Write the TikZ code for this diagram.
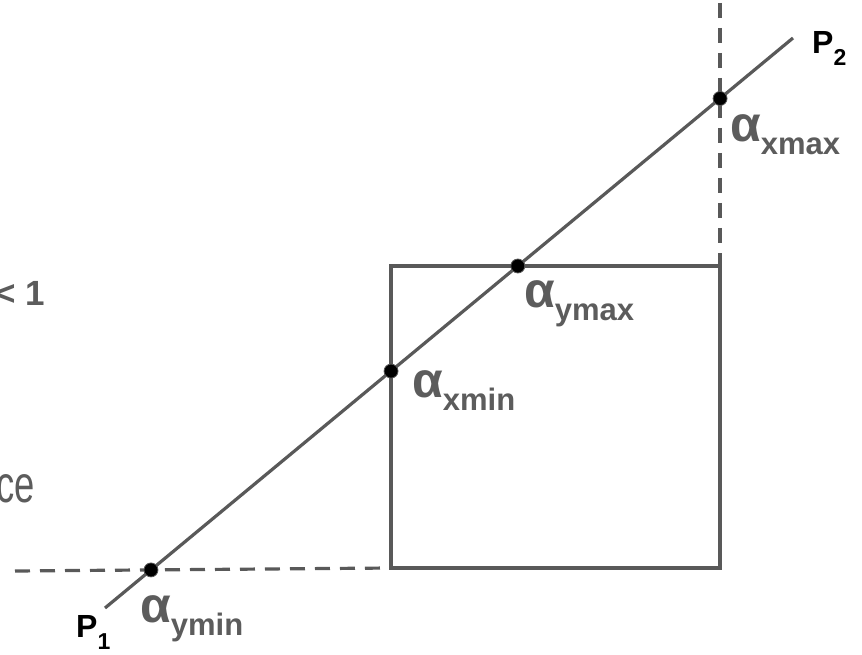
\documentclass[tikz,border=0pt]{standalone}
\usepackage{fontspec}
\setmainfont{Liberation Sans}
\usetikzlibrary{positioning, calc}
\definecolor{linegray}{HTML}{595959}
\definecolor{labelgray}{HTML}{5C5C5C}

% alpha label with a lowered subscript
\newcommand{\alphalab}[1]{{\fontsize{50}{50}\selectfont\bfseries α}\raisebox{-13pt}{\fontsize{31}{31}\selectfont\bfseries #1}}
% end point label
\newcommand{\pointlab}[1]{{\fontsize{32}{32}\selectfont\bfseries P}\raisebox{-12pt}{\fontsize{23}{23}\selectfont\bfseries #1}}

\begin{document}
\begin{tikzpicture}[
        x=1pt, y=-1pt,
        % Styles
        edge/.style={draw=linegray, line width=3.2pt},
        guide/.style={edge, dash pattern=on 15pt off 10pt},
        hit/.style={circle, fill=black, draw=linegray, line width=0.8pt, minimum size=14pt, inner sep=0pt},
        alab/.style={anchor=base west, inner sep=0pt, text=labelgray},
        plab/.style={anchor=base west, inner sep=0pt, text=black}
    ]
    \useasboundingbox (0,0) rectangle (862,655);

    % ==============================
    % 1. BOX AND GUIDES
    % ==============================
    \coordinate (bl) at (391,568);
    \coordinate (br) at (720,568);
    \coordinate (tr) at (720,266);
    \coordinate (tl) at (391,266);
    \coordinate (guide_left) at (15,571);
    \coordinate (guide_top) at (720,3);

    \draw[edge] (bl) -- (br) -- (tr) -- (tl) -- cycle;
    \draw[guide] (guide_left) -- (bl);
    \draw[guide] (guide_top) -- (tr);

    % ==============================
    % 2. RAY P1 -> P2
    % ==============================
    \coordinate (p1) at (105,608);
    \coordinate (p2) at (793,38);
    \draw[edge] (p1) -- (p2);

    % ==============================
    % 3. CROSSINGS
    % ==============================
    \node[hit] (ymin) at (intersection of p1--p2 and guide_left--bl) {};
    \node[hit] (xmin) at (intersection of p1--p2 and bl--tl) {};
    \node[hit] (ymax) at (intersection of p1--p2 and tl--tr) {};
    \node[hit] (xmax) at (intersection of p1--p2 and guide_top--tr) {};

    % ==============================
    % 4. LABELS
    % ==============================
    \node[alab] (ymin_lab) at (140,622) {\alphalab{ymin}};
    \node[alab] (xmin_lab) at (412,397) {\alphalab{xmin}};
    \node[alab] (ymax_lab) at (524,307) {\alphalab{ymax}};
    \node[alab] (xmax_lab) at (730,142) {\alphalab{xmax}};

    \node[plab] (p1_lab) at (76,637) {\pointlab{1}};
    \node[plab] (p2_lab) at (812,54) {\pointlab{2}};

    \node[alab, font=\fontsize{35}{35}\selectfont\bfseries] (bound_lab) at (-5,305) {< 1};
    \node[anchor=base east, inner sep=0pt, text=labelgray, xscale=0.7, transform shape, font=\fontsize{52}{52}\selectfont] (space_lab) at (35,502) {ce};

\end{tikzpicture}
\end{document}
